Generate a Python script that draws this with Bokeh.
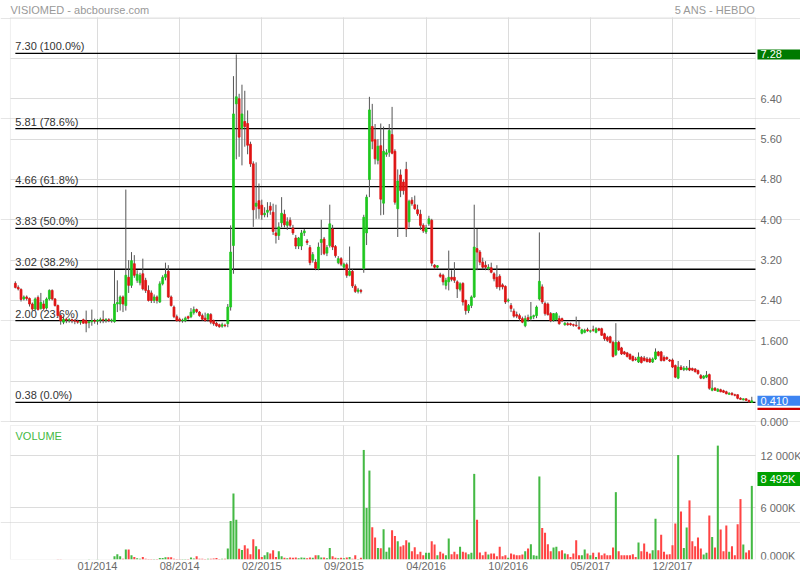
from bokeh.plotting import figure
from bokeh.models import (Range1d, FixedTicker, Grid, Label, ColumnDataSource,
                          BoxAnnotation)
from bokeh.core.properties import value
from bokeh.embed import file_html
from bokeh.resources import INLINE

# ---------------- data (weekly candles, VISIOMED) ----------------
opens = [
    2.74, 2.66, 2.62, 2.43, 2.47, 2.44, 2.33, 2.23, 2.46, 2.24,
    2.33, 2.25, 2.43, 2.60, 2.43, 2.30, 2.10, 1.97, 2.03, 2.01,
    2.02, 2.00, 1.99, 1.97, 2.02, 2.00, 1.96, 1.98, 2.00, 1.99,
    2.01, 2.02, 2.01, 2.02, 2.00, 1.98, 2.33, 2.33, 2.47, 2.30,
    2.86, 2.70, 3.13, 2.80, 2.75, 2.93, 2.80, 2.60, 2.55, 2.40,
    2.47, 2.37, 2.73, 2.86, 2.98, 2.47, 2.27, 2.08, 2.03, 2.00,
    2.00, 2.08, 2.08, 2.16, 2.22, 2.17, 2.10, 2.05, 2.03, 2.12,
    2.00, 1.95, 1.92, 1.89, 1.91, 1.94, 2.27, 3.49, 6.30, 6.40,
    5.81, 5.95, 5.91, 5.50, 5.11, 4.27, 4.38, 4.29, 4.10, 4.15,
    4.27, 4.15, 3.74, 3.69, 3.94, 4.11, 3.89, 3.99, 3.84, 3.64,
    3.48, 3.48, 3.74, 3.58, 3.45, 3.20, 3.16, 3.03, 3.55, 3.62,
    3.34, 3.49, 3.82, 3.47, 3.15, 3.23, 3.06, 3.11, 2.90, 2.98,
    2.68, 2.58, 2.60, 3.03, 3.74, 4.80, 5.85, 5.59, 5.18, 5.47,
    4.33, 5.30, 5.34, 5.69, 5.36, 4.22, 4.89, 4.75, 5.00, 3.96,
    4.39, 4.30, 4.20, 4.11, 3.89, 3.76, 3.92, 3.99, 3.10, 3.06,
    2.91, 2.90, 2.70, 2.77, 2.86, 2.86, 2.77, 2.62, 2.74, 2.40,
    2.20, 2.30, 2.47, 3.43, 3.36, 3.16, 3.10, 3.03, 3.05, 2.93,
    2.86, 2.88, 2.71, 2.68, 2.39, 2.30, 2.19, 2.12, 2.10, 2.04,
    1.90, 2.06, 2.04, 2.08, 2.10, 2.43, 2.67, 2.34, 2.33, 2.14,
    2.01, 2.02, 2.04, 2.04, 1.92, 1.94, 1.94, 1.92, 1.91, 1.87,
    1.75, 1.77, 1.82, 1.79, 1.82, 1.77, 1.84, 1.84, 1.74, 1.67,
    1.68, 1.57, 1.33, 1.57, 1.46, 1.38, 1.36, 1.33, 1.29, 1.24,
    1.18, 1.27, 1.26, 1.24, 1.24, 1.18, 1.24, 1.38, 1.38, 1.27,
    1.27, 1.22, 1.22, 1.11, 0.86, 1.08, 1.03, 1.03, 1.06, 1.05,
    1.04, 1.01, 0.91, 0.86, 0.88, 0.93, 0.62, 0.66, 0.60, 0.63,
    0.61, 0.59, 0.54, 0.56, 0.53, 0.53, 0.46, 0.43, 0.45, 0.42,
    0.38,
]
highs = [
    2.78, 2.70, 2.64, 2.50, 2.50, 2.46, 2.36, 2.46, 2.50, 2.55,
    2.40, 2.46, 2.62, 2.62, 2.45, 2.32, 2.12, 2.08, 2.06, 2.05,
    2.04, 2.03, 2.02, 2.00, 2.04, 2.20, 2.01, 2.22, 2.04, 2.03,
    2.06, 2.20, 2.05, 2.05, 2.04, 3.00, 2.80, 2.50, 2.50, 4.60,
    3.20, 3.36, 3.30, 3.00, 2.95, 3.23, 2.85, 2.70, 2.60, 2.52,
    2.50, 2.78, 2.90, 3.15, 3.10, 2.50, 2.30, 2.12, 2.06, 2.04,
    2.08, 2.10, 2.25, 2.28, 2.24, 2.19, 2.14, 2.16, 2.15, 2.15,
    2.02, 1.98, 1.94, 1.96, 1.94, 2.33, 3.89, 6.85, 7.28, 6.50,
    6.68, 6.56, 6.17, 5.55, 5.16, 5.14, 4.72, 4.40, 4.25, 4.35,
    4.35, 4.32, 4.30, 3.95, 4.45, 4.20, 4.05, 4.05, 3.90, 3.70,
    3.66, 3.80, 3.82, 3.62, 3.50, 3.36, 3.22, 3.55, 4.00, 3.66,
    3.50, 4.30, 3.90, 3.50, 3.28, 3.26, 3.15, 3.15, 3.47, 3.02,
    2.72, 2.65, 2.63, 4.10, 4.50, 6.44, 6.30, 5.90, 5.60, 5.91,
    5.85, 5.40, 5.90, 6.24, 5.40, 5.00, 5.00, 4.80, 5.15, 4.40,
    4.45, 4.48, 4.30, 4.20, 3.93, 3.90, 4.08, 4.02, 3.12, 3.10,
    2.95, 2.93, 2.85, 3.39, 3.00, 3.16, 2.80, 2.76, 2.76, 2.42,
    2.33, 2.50, 4.30, 3.82, 3.40, 3.25, 3.18, 3.12, 3.15, 2.96,
    3.10, 2.92, 2.74, 2.70, 2.44, 2.35, 2.24, 2.18, 2.14, 2.08,
    2.10, 2.12, 2.37, 2.12, 2.30, 3.75, 2.72, 2.38, 2.36, 2.17,
    2.15, 2.17, 2.10, 2.06, 1.97, 1.97, 1.96, 1.94, 2.08, 2.00,
    1.84, 1.84, 1.86, 1.82, 1.90, 1.87, 1.86, 1.86, 1.76, 1.70,
    1.70, 1.60, 1.95, 1.60, 1.48, 1.40, 1.38, 1.35, 1.31, 1.28,
    1.37, 1.30, 1.30, 1.28, 1.27, 1.27, 1.45, 1.40, 1.40, 1.31,
    1.29, 1.24, 1.25, 1.13, 1.20, 1.12, 1.10, 1.10, 1.22, 1.07,
    1.06, 1.03, 0.94, 0.92, 1.00, 0.95, 0.82, 0.68, 0.66, 0.65,
    0.63, 0.61, 0.58, 0.58, 0.55, 0.54, 0.48, 0.46, 0.46, 0.43,
    0.49,
]
lows = [
    2.64, 2.60, 2.38, 2.40, 2.40, 2.28, 2.20, 2.20, 2.20, 2.22,
    2.20, 2.22, 2.40, 2.40, 2.28, 2.06, 1.92, 1.93, 1.95, 1.96,
    1.95, 1.93, 1.94, 1.92, 1.94, 1.77, 1.85, 1.90, 1.94, 1.92,
    1.95, 1.95, 1.96, 1.97, 1.96, 1.96, 2.17, 2.20, 2.17, 2.20,
    2.55, 2.65, 2.85, 2.75, 2.70, 2.60, 2.55, 2.38, 2.35, 2.35,
    2.34, 2.35, 2.70, 2.80, 2.45, 2.28, 2.05, 1.98, 1.97, 1.96,
    1.97, 2.02, 2.05, 2.12, 2.15, 2.08, 2.00, 1.98, 1.98, 1.93,
    1.90, 1.88, 1.86, 1.86, 1.87, 1.87, 2.20, 2.93, 5.20, 5.25,
    5.08, 5.45, 5.30, 5.05, 3.86, 4.02, 4.02, 4.00, 4.05, 4.05,
    4.10, 3.70, 3.53, 3.60, 3.85, 3.85, 3.80, 3.85, 3.70, 3.42,
    3.42, 3.40, 3.68, 3.50, 3.10, 3.15, 3.00, 3.00, 3.30, 3.30,
    3.28, 3.45, 3.40, 3.25, 3.12, 3.08, 3.02, 2.85, 2.88, 2.65,
    2.55, 2.54, 2.54, 2.95, 3.50, 4.45, 5.40, 5.10, 5.10, 4.09,
    4.10, 5.25, 5.25, 5.30, 4.30, 3.66, 4.45, 4.50, 3.66, 3.85,
    4.28, 4.20, 4.08, 3.80, 3.74, 3.72, 3.88, 3.08, 3.02, 3.03,
    2.85, 2.70, 2.62, 2.60, 2.78, 2.75, 2.45, 2.58, 2.30, 2.12,
    2.15, 2.25, 2.45, 3.00, 3.10, 3.02, 3.00, 3.00, 2.94, 2.78,
    2.63, 2.60, 2.62, 2.33, 2.36, 2.17, 2.06, 2.05, 2.00, 1.95,
    1.87, 1.98, 2.00, 2.03, 2.05, 2.40, 2.33, 2.10, 2.10, 1.97,
    1.98, 2.00, 1.92, 1.97, 1.90, 1.90, 1.90, 1.88, 1.88, 1.82,
    1.73, 1.75, 1.78, 1.76, 1.78, 1.75, 1.79, 1.70, 1.60, 1.58,
    1.55, 1.27, 1.30, 1.40, 1.32, 1.32, 1.27, 1.22, 1.19, 1.20,
    1.16, 1.15, 1.19, 1.17, 1.16, 1.16, 1.22, 1.29, 1.19, 1.19,
    1.22, 1.18, 1.06, 0.86, 0.84, 1.02, 1.00, 1.01, 1.00, 1.00,
    0.97, 0.93, 0.84, 0.84, 0.86, 0.63, 0.60, 0.61, 0.59, 0.58,
    0.57, 0.54, 0.53, 0.52, 0.50, 0.44, 0.43, 0.42, 0.41, 0.37,
    0.37,
]
closes = [
    2.66, 2.63, 2.42, 2.47, 2.44, 2.33, 2.23, 2.43, 2.22, 2.36,
    2.24, 2.43, 2.60, 2.43, 2.30, 2.10, 2.00, 2.03, 2.01, 2.02,
    2.00, 1.99, 1.97, 1.98, 1.95, 1.95, 1.98, 2.00, 1.99, 2.01,
    2.02, 2.01, 2.02, 2.00, 2.01, 2.33, 2.36, 2.47, 2.33, 2.90,
    2.70, 3.19, 2.90, 2.92, 2.90, 2.63, 2.60, 2.40, 2.40, 2.47,
    2.40, 2.73, 2.86, 2.92, 2.47, 2.30, 2.08, 2.00, 2.00, 2.01,
    2.05, 2.05, 2.17, 2.22, 2.18, 2.10, 2.03, 2.00, 2.13, 1.97,
    1.94, 1.90, 1.88, 1.92, 1.90, 2.27, 3.36, 6.10, 6.44, 5.64,
    6.10, 5.85, 5.48, 5.11, 4.20, 4.33, 4.22, 4.10, 4.13, 4.19,
    4.19, 3.77, 3.69, 3.86, 4.13, 3.90, 3.96, 3.89, 3.74, 3.48,
    3.64, 3.74, 3.78, 3.55, 3.15, 3.31, 3.04, 3.46, 3.61, 3.33,
    3.45, 3.92, 3.46, 3.29, 3.23, 3.12, 3.12, 2.90, 2.98, 2.69,
    2.58, 2.61, 2.58, 4.05, 4.45, 6.18, 5.56, 5.21, 5.46, 4.41,
    5.36, 5.33, 5.77, 5.32, 4.35, 4.77, 4.58, 4.58, 3.82, 4.37,
    4.32, 4.22, 4.12, 3.89, 3.78, 3.84, 4.02, 3.14, 3.06, 3.09,
    2.88, 2.77, 2.80, 2.86, 2.82, 2.80, 2.63, 2.73, 2.37, 2.20,
    2.30, 2.47, 3.46, 3.36, 3.16, 3.06, 3.06, 3.06, 2.96, 2.83,
    2.67, 2.67, 2.67, 2.37, 2.41, 2.24, 2.09, 2.09, 2.04, 1.97,
    2.04, 2.02, 2.08, 2.10, 2.27, 2.78, 2.37, 2.14, 2.12, 2.00,
    2.14, 2.14, 1.94, 2.00, 1.95, 1.92, 1.92, 1.91, 1.90, 1.84,
    1.82, 1.81, 1.80, 1.80, 1.81, 1.84, 1.81, 1.71, 1.64, 1.61,
    1.57, 1.29, 1.57, 1.42, 1.34, 1.34, 1.29, 1.24, 1.21, 1.23,
    1.28, 1.17, 1.21, 1.19, 1.18, 1.24, 1.38, 1.31, 1.21, 1.21,
    1.24, 1.20, 1.08, 0.88, 1.08, 1.03, 1.06, 1.06, 1.02, 1.02,
    0.99, 0.95, 0.86, 0.90, 0.92, 0.66, 0.66, 0.62, 0.64, 0.59,
    0.58, 0.55, 0.56, 0.53, 0.52, 0.46, 0.44, 0.45, 0.42, 0.39,
    0.41,
]
# volume in thousands of shares
volumes = [
    0, 0, 0, 0, 0, 0, 0, 0, 0, 0,
    0, 0, 0, 0, 0, 30, 30, 0, 0, 0,
    0, 0, 0, 0, 0, 0, 40, 0, 0, 40,
    0, 0, 0, 0, 0, 380, 610, 380, 100, 1150,
    1150, 500, 300, 150, 80, 300, 100, 60, 60, 60,
    60, 180, 180, 250, 250, 250, 80, 60, 60, 50,
    60, 60, 220, 120, 380, 80, 80, 60, 100, 80,
    120, 180, 60, 100, 80, 1260, 4440, 7620, 4600, 1230,
    1110, 1650, 1260, 610, 2340, 1530, 1190, 300, 500, 840,
    690, 1070, 300, 960, 380, 190, 150, 230, 190, 230,
    150, 230, 190, 150, 230, 190, 500, 500, 230, 230,
    150, 1340, 380, 190, 150, 190, 150, 230, 300, 100,
    500, 60, 200, 12640, 5940, 10260, 3720, 2530, 1340, 1300,
    3490, 880, 1380, 3370, 2720, 2100, 1500, 1650, 2220, 1950,
    960, 1420, 610, 880, 500, 770, 770, 2110, 1720, 500,
    880, 690, 500, 2410, 610, 880, 610, 1460, 880, 800,
    610, 770, 9880, 4600, 800, 500, 880, 575, 690, 690,
    380, 1460, 380, 500, 190, 690, 575, 500, 500, 575,
    960, 1260, 1760, 500, 420, 9580, 3640, 3100, 1760, 960,
    1380, 1460, 960, 1070, 690, 610, 300, 690, 2220, 500,
    500, 1150, 690, 500, 770, 300, 800, 500, 690, 500,
    500, 1380, 7770, 960, 500, 500, 500, 500, 610, 300,
    1950, 960, 1840, 880, 690, 1070, 4710, 1070, 2870, 880,
    575, 610, 1650, 4140, 12060, 5550, 1340, 3680, 6820, 2110,
    1530, 2530, 1260, 575, 770, 5090, 2600, 1380, 13140, 3450,
    960, 3910, 880, 1530, 500, 4060, 6970, 1720, 800, 1070,
    8492,
]

fib_levels = [7.30, 5.81, 4.66, 3.83, 3.02, 2.00, 0.38]
fib_pcts = ["100.0%", "78.6%", "61.8%", "50.0%", "38.2%", "23.6%", "0.0%"]

date_ticks = [29, 58, 87, 116, 145, 174, 203, 232]
date_labels = ["01/2014", "08/2014", "02/2015", "09/2015",
               "04/2016", "10/2016", "05/2017", "12/2017"]

price_ticks = [0.0, 0.8, 1.6, 2.4, 3.2, 4.0, 4.8, 5.6, 6.4]
price_tick_labels = ["0.000", "0.800", "1.600", "2.40", "3.20",
                     "4.00", "4.80", "5.60", "6.40"]
grid_price_ticks = [0.0, 0.8, 1.6, 2.4, 3.2, 4.0, 4.8, 5.6, 6.4, 7.2]
vol_ticks = [6000, 12000]
vol_tick_labels = ["6 000K", "12 000K"]
vol_zero_label = "0.000K"

title_left = "VISIOMED - abcbourse.com"
title_right = "5 ANS - HEBDO"

# ---------------- geometry / styling ----------------
FONT = "Liberation Sans"
GREEN_C = "#1ec81e"
RED_C = "#e01414"
GREEN_V = "#44b944"
RED_V = "#ff4444"
GRID = "#dcdcdc"
BORDER = "#cccccc"
TXT = "#6a6a6a"

W, FRAME_H = 800, 559
PITCH = 2.8325                           # pixels per weekly bar
X_START, X_END = -5.246, 277.19          # whole canvas width in bar units
PANEL_X0, PANEL_X1 = -1.72, 261.30       # left / right edge of the two panels
PRICE_RANGE = (-2.737, 8.350)            # price units over the frame height
PRICE_TOP = 8.013                        # top of the price panel
VOL_RANGE = (0, 64500)                   # volume units over the frame height
VOL_TOP = 15461                          # top of the volume panel

n = len(closes)
idx = list(range(n))
up = [c >= o for o, c in zip(opens, closes)]

src = ColumnDataSource(data=dict(
    x=idx, l=lows, h=highs,
    top=[max(o, c) for o, c in zip(opens, closes)],
    bot=[min(o, c) for o, c in zip(opens, closes)],
    ccol=[GREEN_C if u else RED_C for u in up],
    vcol=[GREEN_V if u else RED_V for u in up],
    vol=volumes,
))

p = figure(frame_width=W, frame_height=FRAME_H,
           x_range=Range1d(X_START, X_END), y_range=Range1d(*PRICE_RANGE),
           y_axis_location=None, x_axis_location="below",
           toolbar_location=None, output_backend="svg",
           min_border_left=0, min_border_right=0,
           min_border_top=0, min_border_bottom=20,
           background_fill_color="white", border_fill_color="white",
           outline_line_color=None)
p.extra_y_ranges = {"vol": Range1d(*VOL_RANGE)}
p.xgrid.visible = False

# date axis under the volume panel
p.xaxis.ticker = FixedTicker(ticks=date_ticks)
p.xaxis.major_label_overrides = dict(zip(date_ticks, date_labels))
p.xaxis.axis_line_color = None
p.xaxis.major_tick_line_color = None
p.xaxis.minor_tick_line_color = None
p.xaxis.major_tick_out = 0
p.xaxis.major_tick_in = 0
p.xaxis.major_label_standoff = 0
p.xaxis.major_label_text_font = FONT
p.xaxis.major_label_text_font_size = "11px"
p.xaxis.major_label_text_color = TXT

# grids limited to each panel
p.add_layout(Grid(dimension=1, ticker=FixedTicker(ticks=grid_price_ticks),
                  cross_bounds=(PANEL_X0, PANEL_X1), grid_line_color=GRID))
p.add_layout(Grid(dimension=0, ticker=FixedTicker(ticks=date_ticks),
                  cross_bounds=(0, PRICE_TOP), grid_line_color=GRID))
p.add_layout(Grid(dimension=1, y_range_name="vol",
                  ticker=FixedTicker(ticks=vol_ticks),
                  cross_bounds=(PANEL_X0, PANEL_X1), grid_line_color=GRID))
p.add_layout(Grid(dimension=0, y_range_name="vol",
                  ticker=FixedTicker(ticks=date_ticks),
                  cross_bounds=(0, VOL_TOP), grid_line_color=GRID))

# panel borders
p.add_layout(BoxAnnotation(left=PANEL_X0, right=PANEL_X1, bottom=0, top=PRICE_TOP,
                           fill_alpha=0, line_color=BORDER, line_width=1,
                           level="underlay"))
p.add_layout(BoxAnnotation(left=PANEL_X0, right=PANEL_X1, bottom=0, top=VOL_TOP,
                           y_range_name="vol", fill_alpha=0, line_color=BORDER,
                           line_width=1, level="underlay"))

# tick labels on the right of each panel
p.text(x=[PANEL_X1] * len(price_ticks), y=price_ticks, text=price_tick_labels,
       x_offset=5, text_font=value(FONT), text_font_size="11px",
       text_color=TXT, text_baseline="middle", text_align="left")
p.text(x=[PANEL_X1] * len(vol_ticks), y=vol_ticks, text=vol_tick_labels,
       y_range_name="vol", x_offset=5, text_font=value(FONT),
       text_font_size="11px", text_color=TXT, text_baseline="middle",
       text_align="left")
p.text(x=[PANEL_X1], y=[0], text=[vol_zero_label], y_range_name="vol",
       x_offset=5, y_offset=2, text_font=value(FONT), text_font_size="11px",
       text_color=TXT, text_baseline="bottom", text_align="left")

# Fibonacci retracement lines and labels
p.segment(x0=[0] * len(fib_levels), x1=[PANEL_X1] * len(fib_levels),
          y0=fib_levels, y1=fib_levels, line_color="black", line_width=1.3)
p.text(x=[0] * len(fib_levels), y=fib_levels,
       text=[f"{v:.2f}  ({pc})" for v, pc in zip(fib_levels, fib_pcts)],
       text_font=value(FONT), text_font_size="11px", text_color="#333333",
       text_baseline="bottom", text_align="left", y_offset=-1)

# candles
p.segment(x0="x", x1="x", y0="l", y1="h", source=src,
          line_color="#555555", line_width=1)
p.vbar(x="x", top="top", bottom="bot", width=0.66, source=src,
       fill_color="ccol", line_color="ccol", line_width=0.8)

# volume bars
p.vbar(x="x", top="vol", bottom=0, width=0.72, source=src, y_range_name="vol",
       fill_color="vcol", line_color=None)

# titles and panel caption
p.add_layout(Label(x=10, y=FRAME_H - 9, x_units="screen", y_units="screen",
                   text=title_left, text_font=FONT, text_font_size="11px",
                   text_color="#999999", text_baseline="middle", text_align="left"))
p.add_layout(Label(x=PANEL_X1, y=FRAME_H - 9, x_units="data", y_units="screen",
                   text=title_right, text_font=FONT, text_font_size="11px",
                   text_color="#999999", text_baseline="middle", text_align="right"))
p.add_layout(Label(x=PANEL_X0, y=VOL_TOP, y_range_name="vol",
                   x_offset=5, y_offset=-4,
                   text="VOLUME", text_font=FONT, text_font_size="11px",
                   text_color="#44b944", text_baseline="top", text_align="left"))

# value boxes on the right
p.add_layout(Label(x=PANEL_X1, y=max(highs), x_offset=2,
                   text=f"{max(highs):.2f}", text_font=FONT, text_font_size="11px",
                   text_color="white", text_baseline="middle", text_align="left",
                   background_fill_color="#007a00", background_fill_alpha=1.0,
                   padding=dict(left=3, right=21, top=1, bottom=1)))
# red rule under the last-price box
p.add_layout(BoxAnnotation(left=PANEL_X1 + 2 / PITCH, right=X_END,
                           bottom=closes[-1] - 0.182, top=closes[-1] - 0.138,
                           fill_color="#cc0000", fill_alpha=1.0, line_color=None))
p.add_layout(Label(x=PANEL_X1, y=closes[-1], x_offset=2,
                   text=f"{closes[-1]:.3f}", text_font=FONT, text_font_size="11px",
                   text_color="white", text_baseline="middle", text_align="left",
                   background_fill_color="#3d84f2", background_fill_alpha=1.0,
                   padding=dict(left=3, right=16, top=1, bottom=1)))
last_vol = f"{volumes[-1]:,}".replace(",", " ") + "K"
p.add_layout(Label(x=PANEL_X1, y=volumes[-1], y_range_name="vol", x_offset=2,
                   text=last_vol, text_font=FONT, text_font_size="11px",
                   text_color="white", text_baseline="bottom", text_align="left",
                   background_fill_color="#00a000", background_fill_alpha=1.0,
                   padding=dict(left=3, right=8, top=1, bottom=1)))

open("out.html", "w").write(file_html(p, INLINE, "VISIOMED"))
